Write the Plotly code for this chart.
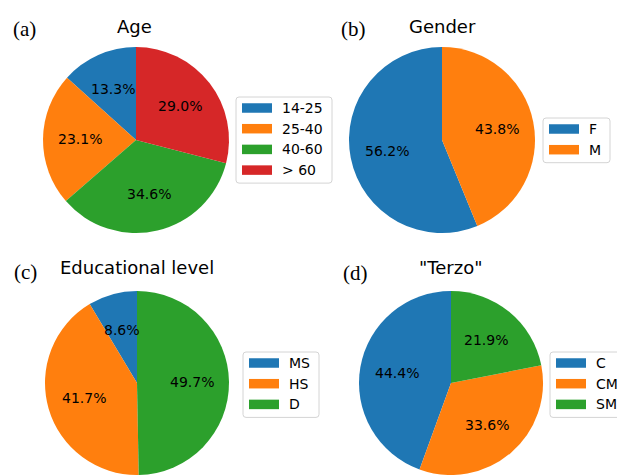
import math
import plotly.graph_objects as go

# ---- data -------------------------------------------------------------
age_labels = ["14-25", "25-40", "40-60", "> 60"]
age_pct = [13.3, 23.1, 34.6, 29.0]

gender_labels = ["F", "M"]
gender_pct = [56.2, 43.8]

edu_labels = ["MS", "HS", "D"]
edu_pct = [8.6, 41.7, 49.7]

terzo_labels = ["C", "CM", "SM"]
terzo_pct = [44.4, 33.6, 21.9]

TAB10 = ["#1f77b4", "#ff7f0e", "#2ca02c", "#d62728"]

# ---- canvas -----------------------------------------------------------
W, H = 617, 475


def px(x):
    return x / W


def py(y):
    return 1 - y / H


SANS = "DejaVu Sans"
SERIF = "Liberation Serif"

# panel layout: tag, title, pie centre/radius, legend box (left, top, width)
panels = [
    dict(tag="(a)", tag_xy=(24, 29), title="Age", title_xy=(134.5, 26),
         labels=age_labels, values=age_pct, c=(136, 140), r=93,
         box=(236, 97, 96)),
    dict(tag="(b)", tag_xy=(354, 29), title="Gender", title_xy=(442.5, 26),
         labels=gender_labels, values=gender_pct, c=(442, 140), r=93,
         box=(543, 118, 67)),
    dict(tag="(c)", tag_xy=(25, 272), title="Educational level", title_xy=(137, 267),
         labels=edu_labels, values=edu_pct, c=(137, 383), r=92,
         box=(243, 352, 76)),
    dict(tag="(d)", tag_xy=(355, 273), title='"Terzo"', title_xy=(451, 267),
         labels=terzo_labels, values=terzo_pct, c=(451, 383), r=92,
         box=(550, 352, 78)),
]

fig = go.Figure()
shapes = []
annotations = []


def rounded_box(x0, y0, x1, y1, rad=3):
    # rounded rectangle path in paper coordinates (pixel inputs)
    pts = [
        f"M{px(x0 + rad)},{py(y0)}",
        f"L{px(x1 - rad)},{py(y0)}",
        f"Q{px(x1)},{py(y0)} {px(x1)},{py(y0 + rad)}",
        f"L{px(x1)},{py(y1 - rad)}",
        f"Q{px(x1)},{py(y1)} {px(x1 - rad)},{py(y1)}",
        f"L{px(x0 + rad)},{py(y1)}",
        f"Q{px(x0)},{py(y1)} {px(x0)},{py(y1 - rad)}",
        f"L{px(x0)},{py(y0 + rad)}",
        f"Q{px(x0)},{py(y0)} {px(x0 + rad)},{py(y0)}",
        "Z",
    ]
    return " ".join(pts)


for p in panels:
    cx, cy = p["c"]
    r = p["r"]
    vals = p["values"]
    cols = TAB10[:len(vals)]
    total = sum(vals)

    # first wedge begins at 12 o'clock and wedges run anticlockwise;
    # plotly anchors the *end* of the first wedge at `rotation`, so shift it back
    fig.add_trace(go.Pie(
        labels=p["labels"], values=vals, sort=False,
        direction="counterclockwise", rotation=-360 * vals[0] / total,
        marker=dict(colors=cols, line=dict(width=0)),
        textinfo="none", hoverinfo="label+percent", showlegend=False,
        domain=dict(x=[px(cx - r), px(cx + r)], y=[py(cy + r), py(cy - r)]),
    ))

    # percentage labels at 0.6 of the radius, on each wedge's mid-angle
    cum = 0.0
    for v in vals:
        mid = math.radians(90 + 360 * (cum + v / 2) / total)
        cum += v
        tx = cx + 0.6 * r * math.cos(mid)
        ty = cy - 0.6 * r * math.sin(mid)
        annotations.append(dict(
            x=px(tx), y=py(ty), xref="paper", yref="paper",
            text=f"{v:.1f}%", showarrow=False,
            xanchor="center", yanchor="middle",
            font=dict(family=SANS, size=14, color="black"),
        ))

    # title and panel tag
    annotations.append(dict(
        x=px(p["title_xy"][0]), y=py(p["title_xy"][1]), xref="paper", yref="paper",
        text=p["title"], showarrow=False, xanchor="center", yanchor="middle",
        font=dict(family=SANS, size=18, color="black"),
    ))
    annotations.append(dict(
        x=px(p["tag_xy"][0]), y=py(p["tag_xy"][1]), xref="paper", yref="paper",
        text=p["tag"], showarrow=False, xanchor="center", yanchor="middle",
        font=dict(family=SERIF, size=21, color="black"),
    ))

    # legend: framed box with wide colour swatches
    bx, by, bw = p["box"]
    n = len(p["labels"])
    row_gap = 20.7
    bh = 24 + (n - 1) * row_gap
    shapes.append(dict(
        type="path", xref="paper", yref="paper",
        path=rounded_box(bx, by, bx + bw, by + bh),
        line=dict(color="#d4d4d4", width=1), fillcolor="rgba(255,255,255,0.8)",
        layer="above",
    ))
    for i, lab in enumerate(p["labels"]):
        ry = by + 11 + i * row_gap
        shapes.append(dict(
            type="rect", xref="paper", yref="paper",
            x0=px(bx + 6), x1=px(bx + 36), y0=py(ry + 4.75), y1=py(ry - 4.75),
            line=dict(width=0), fillcolor=cols[i], layer="above",
        ))
        annotations.append(dict(
            x=px(bx + 44), y=py(ry), xref="paper", yref="paper",
            text=lab, showarrow=False, xanchor="left", yanchor="middle",
            font=dict(family=SANS, size=14, color="black"),
        ))

fig.update_layout(
    width=W, height=H,
    margin=dict(l=0, r=0, t=0, b=0),
    paper_bgcolor="white", plot_bgcolor="white",
    shapes=shapes, annotations=annotations,
    showlegend=False,
)

fig.write_html("out.html")
